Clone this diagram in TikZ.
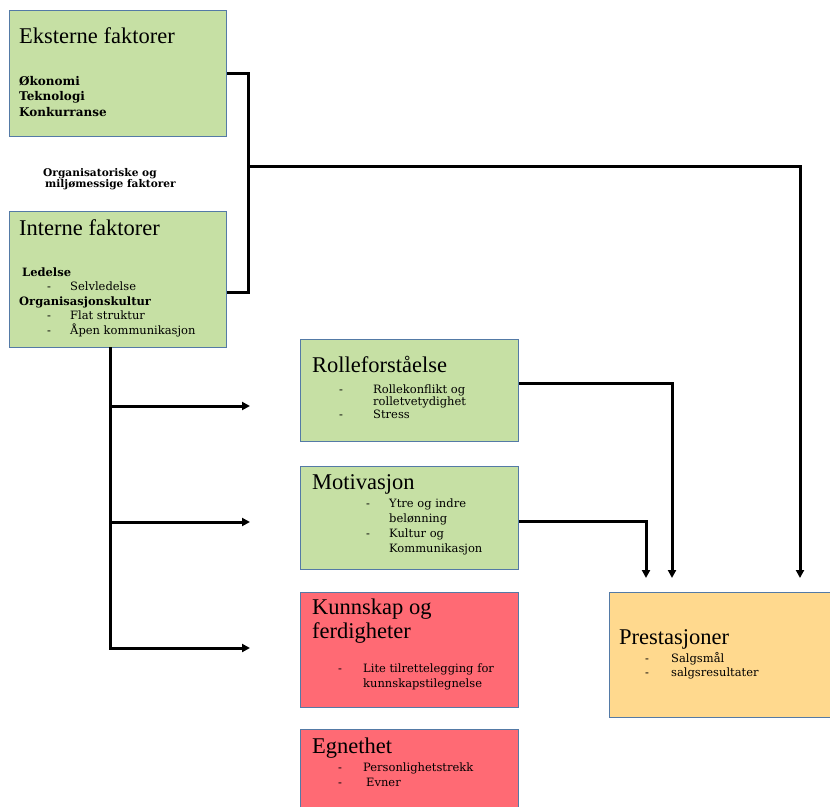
\documentclass[tikz,border=0pt]{standalone}
\usepackage{fontspec}
\setmainfont{Liberation Serif}
\newfontfamily\listfont{DejaVu Serif}
\usetikzlibrary{arrows.meta}

\definecolor{factorgreen}{RGB}{198,224,164}
\definecolor{factorred}{RGB}{255,106,116}
\definecolor{factoryellow}{RGB}{255,217,142}
\definecolor{factorline}{RGB}{84,122,166}

\newcommand{\itemdash}[1][22pt]{\makebox[#1][l]{-}}

\tikzset{
  factor/.style={draw=factorline, line width=1pt, inner sep=0pt, anchor=north west},
  heading/.style={anchor=base west, inner sep=0pt, font=\fontsize{22.5}{24}\selectfont},
  bullets/.style={anchor=base west, inner sep=0pt, font=\listfont\fontsize{11.5}{#1}\selectfont},
  bullets/.default=15,
  link/.style={line width=3pt},
  feed/.style={link, -{Triangle[length=8pt,width=8pt]}}
}

\begin{document}
\begin{tikzpicture}[x=1pt,y=-1pt]
  \clip (0,0) rectangle (830,806);

  % boxes
  \node[factor, fill=factorgreen, minimum width=217pt, minimum height=126pt] (ext) at (9,10) {};
  \node[factor, fill=factorgreen, minimum width=217pt, minimum height=136pt] (int) at (9,211) {};
  \node[factor, fill=factorgreen, minimum width=218pt, minimum height=102pt] (role) at (300,339) {};
  \node[factor, fill=factorgreen, minimum width=218pt, minimum height=103pt] (motiv) at (300,466) {};
  \node[factor, fill=factorred, minimum width=218pt, minimum height=115pt] (skill) at (300,592) {};
  \node[factor, fill=factorred, minimum width=218pt, minimum height=100pt] (apt) at (300,729) {};
  \node[factor, fill=factoryellow, minimum width=240pt, minimum height=125pt] (perf) at (609,592) {};

  % texts
  \node[heading] (ext-head) at (19,43) {Eksterne faktorer};
  \node[bullets=15.5, font=\listfont\bfseries\fontsize{12}{15.5}\selectfont] (ext-list) at (19,85)
    {\begin{tabular}[t]{@{}l@{}}Økonomi\\ Teknologi\\ Konkurranse\end{tabular}};

  \node[anchor=base west, inner sep=0pt, font=\listfont\bfseries\fontsize{10.6}{11.5}\selectfont] (org) at (43,176)
    {\begin{tabular}[t]{@{}l@{}}Organisatoriske og\\ \hspace*{2pt}miljømessige faktorer\end{tabular}};

  \node[heading] (int-head) at (19,235) {Interne faktorer};
  \node[bullets=14.5] (int-list) at (19,276) {\begin{tabular}[t]{@{}l@{}}
    \hspace*{3pt}\textbf{Ledelse}\\
    \hspace*{28pt}\itemdash[23pt]Selvledelse\\
    \textbf{Organisasjonskultur}\\
    \hspace*{28pt}\itemdash[23pt]Flat struktur\\
    \hspace*{28pt}\itemdash[23pt]Åpen kommunikasjon\end{tabular}};

  \node[heading] (role-head) at (312,372) {Rolleforståelse};
  \node[bullets=12.5] (role-list) at (339,393) {\begin{tabular}[t]{@{}l@{}}
    \itemdash[34pt]Rollekonflikt og\\
    \hspace*{34pt}rolletvetydighet\\
    \itemdash[34pt]Stress\end{tabular}};

  \node[heading] (motiv-head) at (312,489) {Motivasjon};
  \node[bullets] (motiv-list) at (366,507) {\begin{tabular}[t]{@{}l@{}}
    \itemdash[23pt]Ytre og indre\\
    \hspace*{23pt}belønning\\
    \itemdash[23pt]Kultur og\\
    \hspace*{23pt}Kommunikasjon\end{tabular}};

  \node[heading] (skill-head) at (312,614) {\begin{tabular}[t]{@{}l@{}}Kunnskap og\\ ferdigheter\end{tabular}};
  \node[bullets] (skill-list) at (338,672) {\begin{tabular}[t]{@{}l@{}}
    \itemdash[25pt]Lite tilrettelegging for\\
    \hspace*{25pt}kunnskapstilegnelse\end{tabular}};

  \node[heading] (apt-head) at (312,753) {Egnethet};
  \node[bullets] (apt-list) at (338,771) {\begin{tabular}[t]{@{}l@{}}
    \itemdash[25pt]Personlighetstrekk\\
    \itemdash[28pt]Evner\end{tabular}};

  \node[heading] (perf-head) at (619,644) {Prestasjoner};
  \node[bullets=14] (perf-list) at (645,662) {\begin{tabular}[t]{@{}l@{}}
    \itemdash[26pt]Salgsmål\\
    \itemdash[26pt]salgsresultater\end{tabular}};

  % connectors
  \coordinate (split) at (248,166);
  \coordinate (trunk) at (110,347);
  \coordinate (to-role) at (250,406);
  \coordinate (to-motiv) at (250,522);
  \coordinate (to-skill) at (250,648);
  \coordinate (in-motiv) at (646,578);
  \coordinate (in-role) at (672,578);
  \coordinate (in-env) at (800,578);

  \draw[link] (ext.east) -| (split) |- ([yshift=-13pt]int.east);
  \draw[feed] (split) -| (in-env);
  \draw[feed] ([yshift=7pt]role.east) -| (in-role);
  \draw[feed] ([yshift=-3pt]motiv.east) -| (in-motiv);
  \draw[feed] (trunk) |- (to-skill);
  \draw[feed] (trunk |- to-role) -- (to-role);
  \draw[feed] (trunk |- to-motiv) -- (to-motiv);
\end{tikzpicture}
\end{document}
